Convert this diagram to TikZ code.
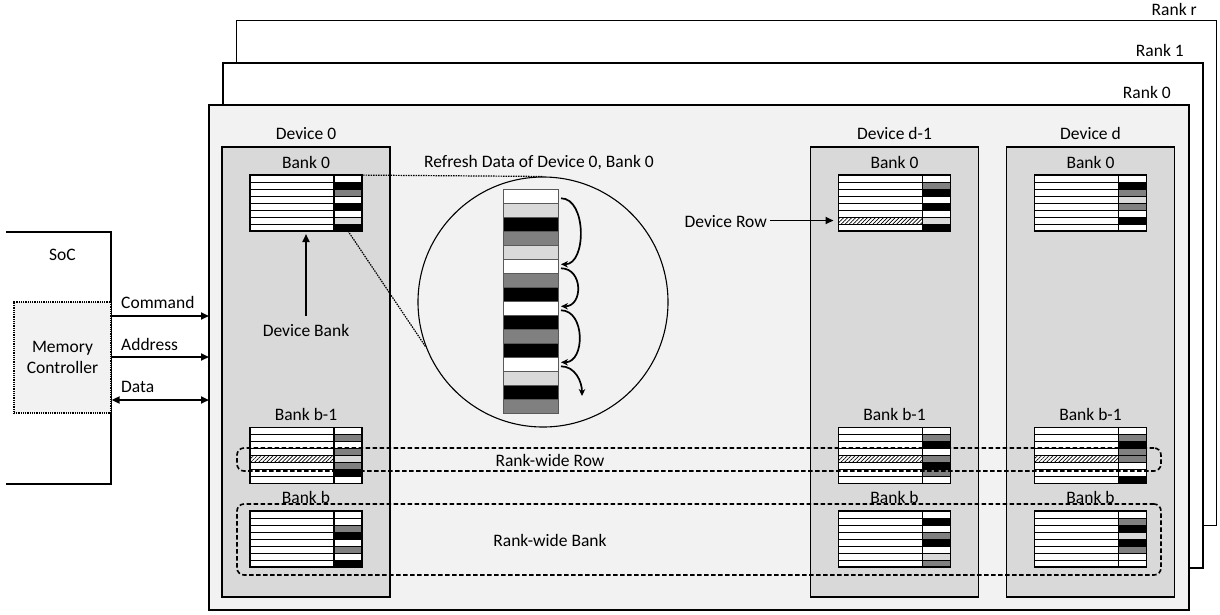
\documentclass[tikz,border=0pt]{standalone}
\usepackage{fontspec}
\setmainfont{Carlito}
\usetikzlibrary{arrows.meta,patterns.meta}
\definecolor{rankfill}{HTML}{F2F2F2}
\definecolor{devfill}{HTML}{D9D9D9}
\definecolor{cellgray}{HTML}{808080}
\definecolor{celllight}{HTML}{D9D9D9}
\tikzset{
  rankbox/.style={draw, line width=1.6pt, fill=white, minimum width=980, minimum height=505, inner sep=0, outer sep=0},
  devbox/.style={draw, line width=1.6pt, fill=devfill, minimum width=168, minimum height=450, inner sep=0, outer sep=0},
  arrayframe/.style={minimum width=112, minimum height=56, inner sep=0, outer sep=0},
  rowline/.style={line width=1pt},
  arrayedge/.style={line width=1.4pt},
  band/.style={draw, dash pattern=on 4.5pt off 2.5pt, line width=1.6pt, rounded corners=7pt, minimum width=924, inner sep=0},
  txt/.style={inner sep=1pt, anchor=base},
  txtl/.style={inner sep=1pt, anchor=base west},
  txtr/.style={inner sep=1pt, anchor=base east},
  thinarrow/.style={line width=1.9pt, -{Triangle[length=8pt,width=7pt]}},
  loopy/.style={line width=1.7pt, -{Stealth[length=7pt,width=6.5pt]}},
  magnify/.style={dash pattern=on 1.5pt off 1pt, line width=1.2pt}
}
\newcommand{\bankarray}[5]{%
  \node[arrayframe] (#1) at (#2,#3+28) {};
  \foreach \cellcol [count=\r] in {#4} {
    \ifnum\r=#5
      \draw[rowline,fill=white,postaction={pattern={Lines[angle=45,distance=2.8pt,line width=0.7pt]}}] (#2-56,{#3+(\r-1)*7}) rectangle (#2+28,{#3+\r*7});
    \else
      \draw[rowline,fill=white] (#2-56,{#3+(\r-1)*7}) rectangle (#2+28,{#3+\r*7});
    \fi
    \draw[rowline,fill=\cellcol] (#2+28,{#3+(\r-1)*7}) rectangle (#2+56,{#3+\r*7});
  }
  \draw[arrayedge] (#1.north west) rectangle (#1.south east);
  \draw[arrayedge] (#2+28,#3) -- (#2+28,#3+56);
}
\begin{document}
\begin{tikzpicture}[x=1pt,y=-1pt,font=\fontsize{17.5}{21}\selectfont]
\useasboundingbox (0,0) rectangle (1220,614);

\node[rankbox] (rankr) at (726.5,273) {};
\node[rankbox] (rank1) at (713,315.5) {};
\node[rankbox,fill=rankfill] (rank0) at (699,357.5) {};
\node[txtr] (rankrlbl) at (1198,15) {Rank r};
\node[txtr] (rank1lbl) at (1185,56) {Rank 1};
\node[txtr] (rank0lbl) at (1172,98) {Rank 0};

\node[devbox] (dev0) at (306,372) {};
\node[devbox] (devdm) at (894.5,372) {};
\node[devbox] (devd) at (1090.5,372) {};
\node[txt] (dev0lbl) at (306,139) {Device 0};
\node[txt] (devdmlbl) at (894.5,139) {Device d-1};
\node[txt] (devdlbl) at (1090.5,139) {Device d};

\foreach \cx/\dn in {306/dev0, 894.5/devdm, 1090.5/devd} {
  \node[txt] (\dn b0lbl) at (\cx,168) {Bank 0};
  \node[txt] (\dn bmlbl) at (\cx,420) {Bank b-1};
  \node[txt] (\dn bblbl) at (\cx,503) {Bank b};
}

\bankarray{dev0b0}{306}{175}{white,black,cellgray,white,black,white,celllight,black}{0}
\bankarray{dev0bm}{306}{427.5}{white,cellgray,white,cellgray,celllight,cellgray,black,white}{5}
\bankarray{dev0bb}{306}{511}{white,white,cellgray,black,white,cellgray,white,black}{0}
\bankarray{devdmb0}{894.5}{175}{white,cellgray,black,white,black,white,celllight,black}{7}
\bankarray{devdmbm}{894.5}{427.5}{white,cellgray,black,white,cellgray,black,cellgray,white}{5}
\bankarray{devdmbb}{894.5}{511}{white,black,white,cellgray,black,white,celllight,cellgray}{0}
\bankarray{devdb0}{1090.5}{175}{white,black,cellgray,celllight,cellgray,white,black,white}{0}
\bankarray{devdbm}{1090.5}{427.5}{white,cellgray,black,cellgray,cellgray,white,white,black}{5}
\bankarray{devdbb}{1090.5}{511}{white,cellgray,black,celllight,black,cellgray,white,white}{0}

\node[band, minimum height=23] (rowband) at (699,459.5) {};
\node[band, minimum height=71] (bankband) at (699,539.5) {};
\node[txt] (rowbandlbl) at (550,466) {Rank-wide Row};
\node[txt] (bankbandlbl) at (550,546) {Rank-wide Bank};

\node[txtl] (refreshlbl) at (423,167) {Refresh Data of Device 0, Bank 0};
\node[draw, circle, line width=1.1pt, minimum size=250, inner sep=0] (zoom) at (543,302) {};
\node[minimum width=55, minimum height=224, inner sep=0] (col) at (531,301.3) {};
\foreach \cellcol [count=\r] in {white,celllight,black,cellgray,celllight,white,cellgray,black,white,black,cellgray,black,white,celllight,black,cellgray}
  \draw[line width=0.9pt, draw=black!65, fill=\cellcol] (503.5,{189.3+(\r-1)*14}) rectangle (558.5,{189.3+\r*14});
\foreach \r in {1,6,9,13}
  \coordinate (cell\r) at (561,{189.3+(\r-0.5)*14});
\coordinate (celltail) at (582,396);
\draw[loopy] ([yshift=-2pt]cell1) to[out=0,in=0] ([yshift=2pt]cell6);
\draw[loopy] ([yshift=-2pt]cell6) to[out=0,in=0,looseness=1.5] ([yshift=2pt]cell9);
\draw[loopy] ([yshift=-2pt]cell9) to[out=0,in=0,looseness=1.2] ([yshift=2pt]cell13);
\draw[loopy] ([yshift=-2pt]cell13) to[out=0,in=90] (celltail);

\draw[magnify] ([xshift=42pt]dev0b0.north) -- (zoom.north);
\draw[magnify] ([xshift=42pt]dev0b0.south) -- (zoom.201);

\node[txtr] (devrowlbl) at (768,227) {Device Row};
\coordinate (devrowtip) at ([shift={(-5pt,-17.5pt)}]devdmb0.west);
\draw[thinarrow] ([xshift=2pt]devrowtip -| devrowlbl.east) -- (devrowtip);
\node[txt] (devbanklbl) at (306,336) {Device Bank};
\draw[thinarrow] ([yshift=7pt]devbanklbl.north) -- ([yshift=-3pt]dev0b0.south);

\draw[line width=1.6pt] (6,232) -| (111,484) -- (6,484);
\node[txt] (soclbl) at (62.5,260) {SoC};
\node[draw, dash pattern=on 1pt off 0.8pt, fill=rankfill, line width=1.3pt, minimum width=97, minimum height=111, align=center, inner sep=0] (mc) at (62.5,357.5) {Memory\\Controller};
\coordinate (cmdstart) at ([yshift=41.5pt]mc.east);
\coordinate (addrstart) at ([yshift=0.5pt]mc.east);
\coordinate (datastart) at ([yshift=-42.5pt]mc.east);
\draw[thinarrow] (cmdstart) -- (cmdstart -| rank0.west);
\draw[thinarrow] (addrstart) -- (addrstart -| rank0.west);
\draw[thinarrow, {Triangle[length=8pt,width=7pt]}-{Triangle[length=8pt,width=7pt]}] (datastart) -- (datastart -| rank0.west);
\node[txtl] (cmdlbl) at (120,308) {Command};
\node[txtl] (addrlbl) at (120,350) {Address};
\node[txtl] (datalbl) at (120,392) {Data};
\end{tikzpicture}
\end{document}
